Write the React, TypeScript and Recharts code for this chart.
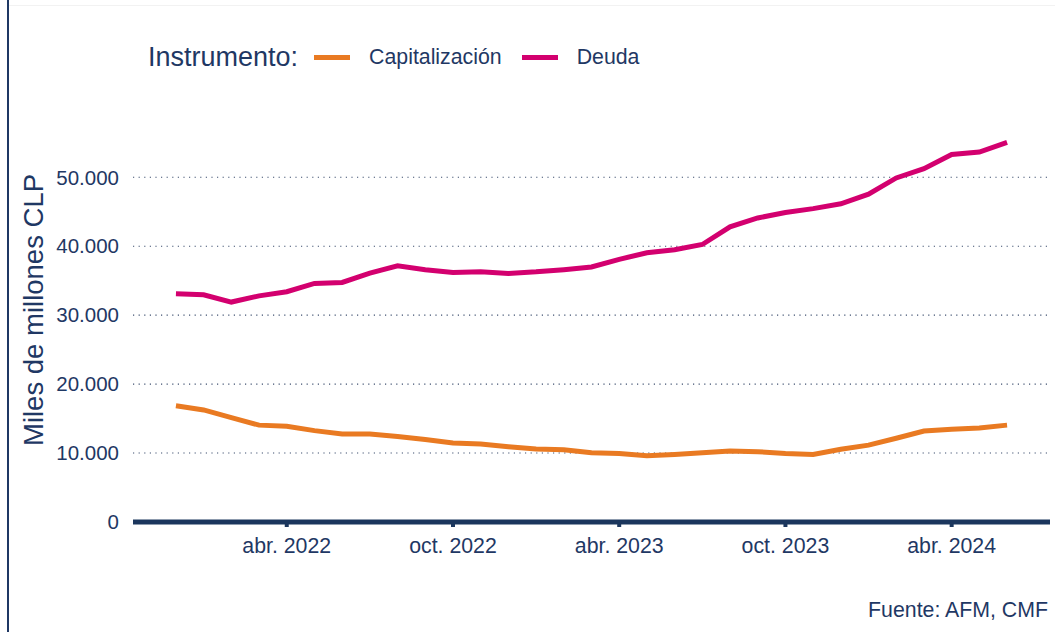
import { LineChart, Line, XAxis, YAxis, CartesianGrid, Label } from "recharts";

// monthly series, dic. 2021 -> jun. 2024 (miles de millones CLP)
const months = [
  "dic. 2021",
  "ene. 2022", "feb. 2022", "mar. 2022", "abr. 2022", "may. 2022", "jun. 2022",
  "jul. 2022", "ago. 2022", "sept. 2022", "oct. 2022", "nov. 2022", "dic. 2022",
  "ene. 2023", "feb. 2023", "mar. 2023", "abr. 2023", "may. 2023", "jun. 2023",
  "jul. 2023", "ago. 2023", "sept. 2023", "oct. 2023", "nov. 2023", "dic. 2023",
  "ene. 2024", "feb. 2024", "mar. 2024", "abr. 2024", "may. 2024", "jun. 2024",
];

const capitalizacion = [
  16850, 16250, 15150, 14050, 13900, 13250, 12750, 12750, 12400, 11950, 11450,
  11300, 10900, 10580, 10480, 10050, 9950, 9600, 9800, 10050, 10300, 10200,
  9950, 9800, 10550, 11150, 12150, 13200, 13450, 13650, 14050,
];

const deuda = [
  33100, 32950, 31900, 32800, 33400, 34600, 34750, 36100, 37150, 36600, 36200,
  36280, 36050, 36280, 36600, 36980, 38100, 39050, 39500, 40250, 42800, 44100,
  44900, 45450, 46150, 47550, 49900, 51250, 53300, 53650, 55050,
];

const xTicks = [4, 10, 16, 22, 28];
const yTicks = [0, 10000, 20000, 30000, 40000, 50000];
const gridValues = [10000, 20000, 30000, 40000, 50000];

const series = [
  { key: "capitalizacion", name: "Capitalización", color: "#E97A22" },
  { key: "deuda", name: "Deuda", color: "#D3006F" },
];

const data = months.map((mes, i) => ({
  idx: i,
  mes,
  capitalizacion: capitalizacion[i],
  deuda: deuda[i],
}));

const navy = "#1F3864";
const font = "'Liberation Sans', Arial, sans-serif";

const fmtMiles = (v: number) =>
  v.toString().replace(/\B(?=(\d{3})+(?!\d))/g, ".");

export default function App() {
  return (
    <div
      style={{
        position: "absolute",
        left: 0,
        top: 0,
        width: 1055,
        height: 632,
        background: "#fff",
        fontFamily: font,
        color: navy,
        overflow: "hidden",
      }}
    >
      {/* frame lines */}
      <div style={{ position: "absolute", left: 7, top: 0, width: 2, height: 632, background: navy }} />
      <div style={{ position: "absolute", left: 9, top: 5, width: 1046, height: 1, background: "#f2f2f2" }} />

      {/* legend */}
      <div
        style={{
          position: "absolute",
          left: 148,
          top: 42,
          height: 30,
          display: "flex",
          alignItems: "center",
        }}
      >
        <span style={{ fontSize: 27, marginRight: 16 }}>Instrumento:</span>
        {series.map((s, i) => (
          <span key={s.key} style={{ display: "flex", alignItems: "center", marginRight: i === 0 ? 20 : 0 }}>
            <span style={{ width: 36, height: 5, background: s.color, marginRight: 19 }} />
            <span style={{ fontSize: 21.3 }}>{s.name}</span>
          </span>
        ))}
      </div>

      <LineChart
        width={1055}
        height={632}
        data={data}
        margin={{ top: 129, right: 5, bottom: 70, left: 73 }}
      >
        <CartesianGrid
          vertical={false}
          horizontalValues={gridValues}
          stroke="#3F5070"
          strokeDasharray="1.2 4.4"
          strokeWidth={1.1}
        />
        <XAxis
          dataKey="idx"
          type="number"
          domain={[-1.55, 31.55]}
          ticks={xTicks}
          tickFormatter={(v: number) => months[v]}
          axisLine={{ stroke: "#1B365D", strokeWidth: 5 }}
          tickLine={{ stroke: "#1B365D", strokeWidth: 4 }}
          tickSize={5}
          tickMargin={11}
          height={40}
          tick={{ fill: navy, fontSize: 21.3, fontFamily: font }}
          allowDataOverflow
        />
        <YAxis
          type="number"
          domain={[0, 57000]}
          ticks={yTicks}
          tickFormatter={fmtMiles}
          axisLine={false}
          tickLine={false}
          tickMargin={8}
          width={60}
          tick={{ fill: navy, fontSize: 20.5, fontFamily: font }}
        >
          <Label
            content={() => (
              <text
                x={33}
                y={310}
                transform="rotate(-90 33 310)"
                textAnchor="middle"
                dominantBaseline="central"
                fill={navy}
                fontSize={27.5}
                fontFamily={font}
              >
                Miles de millones CLP
              </text>
            )}
          />
        </YAxis>
        {series.map((s) => (
          <Line
            key={s.key}
            dataKey={s.key}
            name={s.name}
            stroke={s.color}
            strokeWidth={5}
            dot={false}
            activeDot={false}
            type="linear"
            isAnimationActive={false}
          />
        ))}
      </LineChart>

      {/* source */}
      <div
        style={{
          position: "absolute",
          right: 7,
          top: 598,
          fontSize: 21.3,
          lineHeight: "24px",
          whiteSpace: "nowrap",
        }}
      >
        Fuente: AFM, CMF
      </div>
    </div>
  );
}
